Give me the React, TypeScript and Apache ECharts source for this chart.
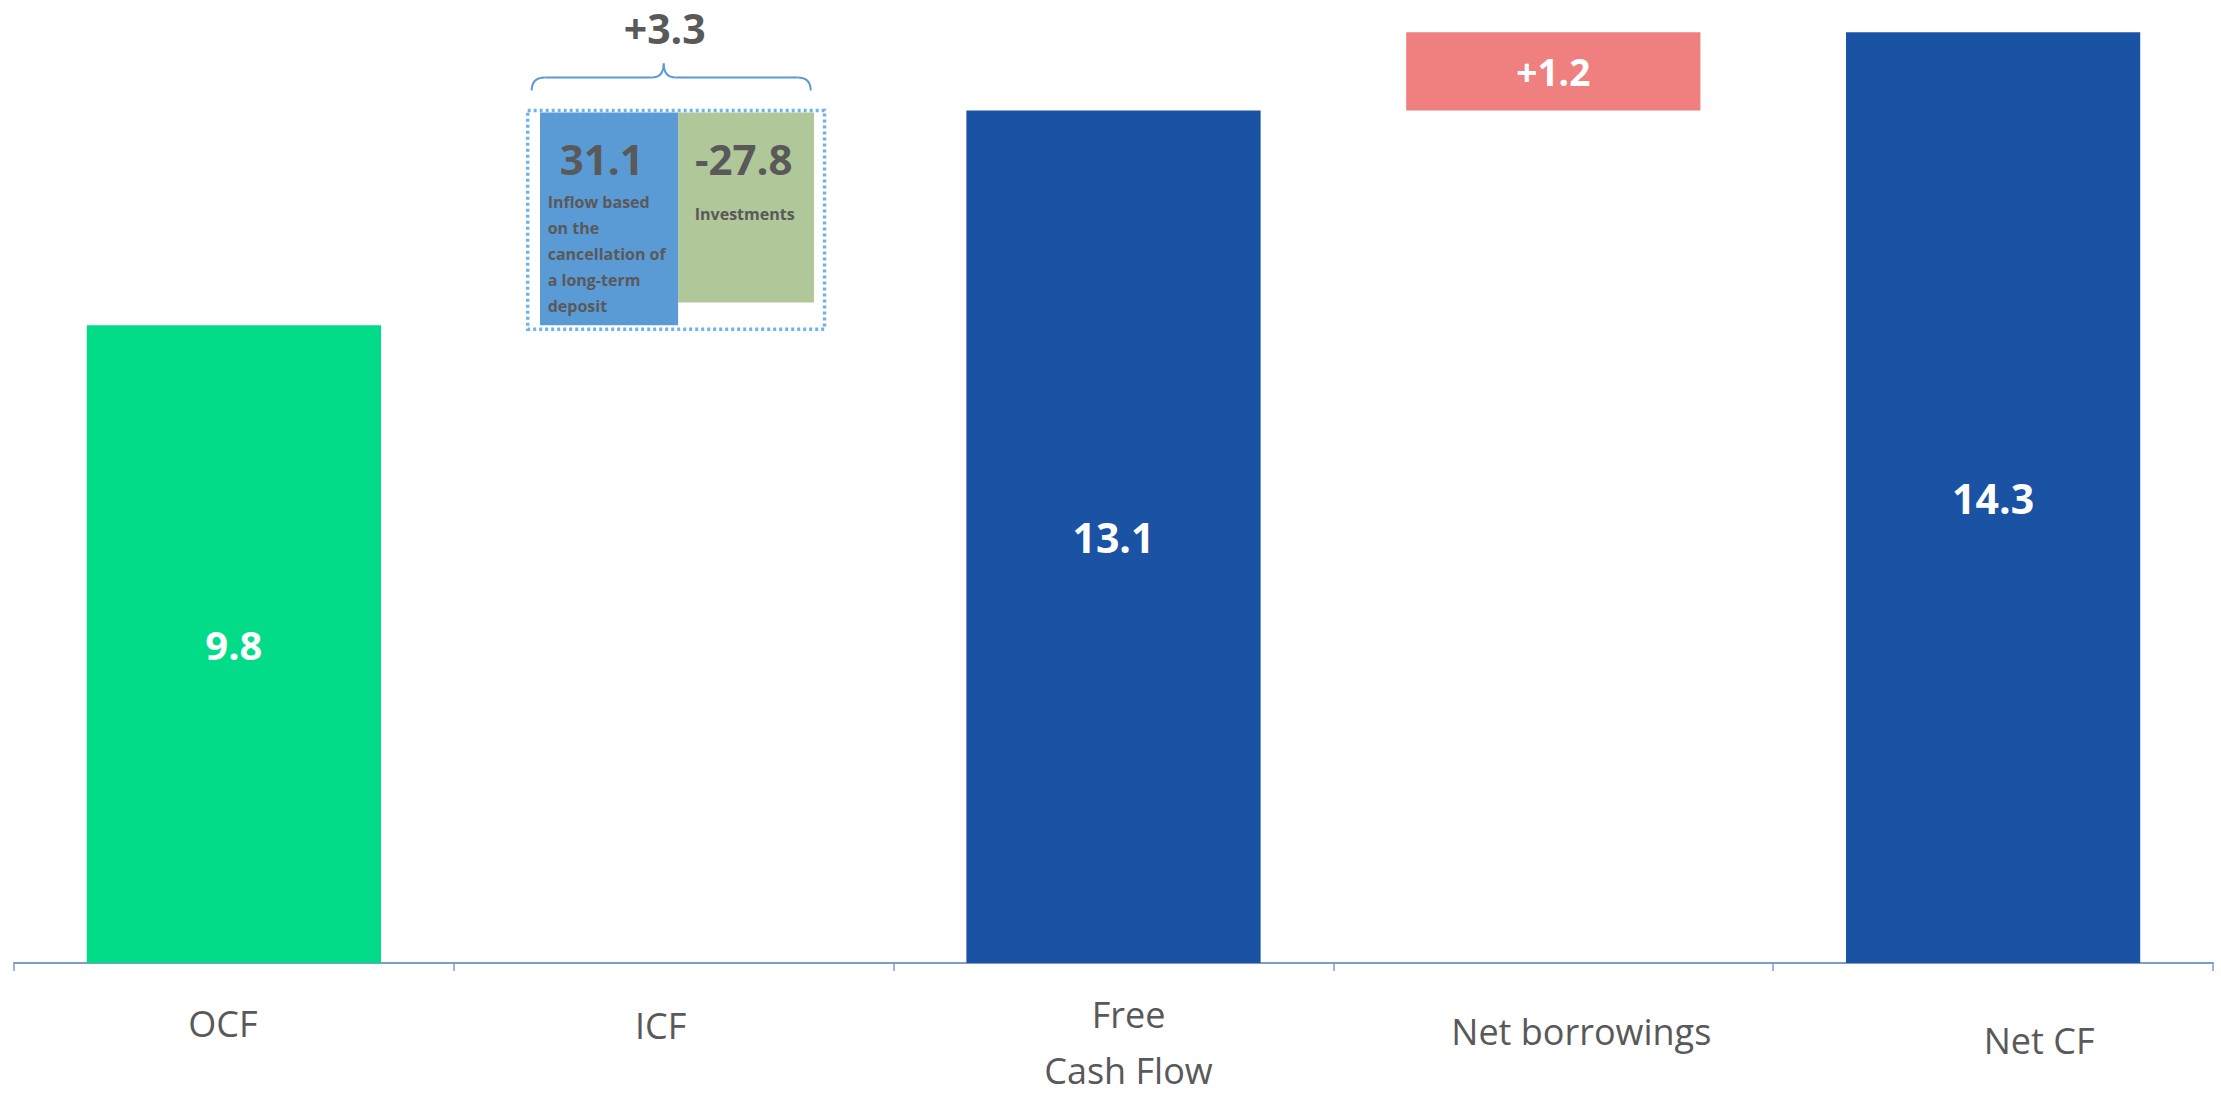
import React, { useEffect, useRef } from 'react';
import * as echarts from 'echarts';

// ---------- data ----------
const categories = ['OCF', 'ICF', 'Free\nCash Flow', 'Net borrowings', 'Net CF'];
const barBase: (number | string)[] = [0, '-', 0, 13.1, 0];
const barValues: (number | string)[] = [9.8, '-', 13.1, 1.2, 14.3];
const barLabels = ['9.8', '', '13.1', '+1.2', '14.3'];
const barColors = ['#02DC89', 'transparent', '#1A53A3', '#F08080', '#1A53A3'];
const labelSizes = [40, 0, 41, 37, 41];

// ICF breakdown (illustrative, spans OCF -> FCF)
const icfIndex = 1;
const icfStart = 9.8;
const icfEnd = 13.1;
const icfInflow = 31.1;
const icfInvestments = -27.8;
const icfNetLabel = '+3.3';
const icfInflowText = 'Inflow based\non the\ncancellation of\na long-term\ndeposit';
const icfInvestText = 'Investments';

const FONT = '"Open Sans", "Noto Sans", sans-serif';
const GREY = '#595959';

export default function App() {
  const ref = useRef<HTMLDivElement>(null);
  useEffect(() => {
    if (!ref.current) return;
    const chart = echarts.init(ref.current, null, { renderer: 'svg' });

    const richStyles: Record<string, any> = {
      c0: { lineHeight: 100, padding: [0, 22, 0, 0] },
      c1: { lineHeight: 104, padding: [0, 26, 0, 0] },
      c2a: { lineHeight: 82, padding: [0, 0, 0, 30] },
      c2b: { lineHeight: 30, padding: [0, 0, 0, 30] },
      c3: { lineHeight: 116, padding: [0, 0, 0, 56] },
      c4: { lineHeight: 134, padding: [0, 0, 0, 92] },
    };
    Object.keys(richStyles).forEach((k) => {
      richStyles[k] = { ...richStyles[k], fontSize: 36, fontFamily: FONT, color: GREY };
    });

    const option: any = {
      animation: false,
      backgroundColor: '#ffffff',
      grid: { left: 14, right: 8, top: 3, bottom: 130, containLabel: false },
      xAxis: {
        type: 'category',
        data: categories,
        boundaryGap: true,
        axisLine: { show: true, lineStyle: { color: '#7E9BCF', width: 2 } },
        axisTick: { show: true, length: 8, alignWithLabel: false, lineStyle: { color: '#7E9BCF', width: 1.5 } },
        axisLabel: {
          interval: 0,
          margin: 10,
          hideOverlap: false,
          formatter: (v: string, i: number) => {
            if (v.indexOf('\n') >= 0) {
              const parts = v.split('\n');
              return `{c${i}a|${parts[0]}}\n{c${i}b|${parts[1]}}`;
            }
            return `{c${i}|${v}}`;
          },
          rich: richStyles,
        },
        splitLine: { show: false },
      },
      yAxis: {
        type: 'value',
        min: 0,
        max: 14.75,
        show: false,
        splitLine: { show: false },
      },
      series: [
        {
          type: 'bar',
          stack: 'wf',
          barWidth: '66.9%',
          silent: true,
          itemStyle: { color: 'transparent' },
          data: barBase,
        },
        {
          type: 'bar',
          stack: 'wf',
          barWidth: '66.9%',
          data: barValues.map((v, i) => ({
            value: v,
            itemStyle: { color: barColors[i] },
            label: {
              show: barLabels[i] !== '',
              position: 'inside',
              formatter: barLabels[i],
              color: '#ffffff',
              fontWeight: 'bold',
              fontFamily: FONT,
              fontSize: labelSizes[i] || 40,
            },
          })),
        },
        {
          type: 'custom',
          clip: false,
          silent: true,
          data: [[icfIndex, icfStart, icfEnd, icfInflow, icfInvestments]],
          encode: { x: 0, y: [1, 2] },
          renderItem: (params: any, api: any) => {
            const idx = api.value(0);
            const start = api.value(1);
            const end = api.value(2);
            const inflow = api.value(3);
            const invest = api.value(4);
            const pB = api.coord([idx, start]);
            const pT = api.coord([idx, end]);
            const cx = pB[0];
            const yBottom = pB[1];
            const yTop = pT[1];
            const greenVal = end - ((end - start) * Math.abs(invest)) / inflow;
            const yGreen = api.coord([idx, greenVal])[1];
            const cw = api.size([1, 0])[0];
            const left = cx - 0.304 * cw;
            const mid = cx + 0.01 * cw;
            const right = cx + 0.319 * cw;
            const boxL = cx - 0.332 * cw;
            const boxR = cx + 0.343 * cw;

            const braceL = cx - 142;
            const braceR = cx + 137;
            const braceM = cx - 10;
            const yEnd = yTop - 20;
            const yH = yTop - 33;
            const yPeak = yTop - 47;
            const braceStyle = { stroke: '#5B9BD5', lineWidth: 2, fill: 'none' };

            return {
              type: 'group',
              children: [
                {
                  type: 'rect',
                  shape: { x: left, y: yTop + 2, width: mid - left, height: yBottom - yTop - 2 },
                  style: { fill: '#5B9BD5' },
                },
                {
                  type: 'rect',
                  shape: { x: mid, y: yTop + 2, width: right - mid, height: yGreen - yTop - 2 },
                  style: { fill: '#B0C79A' },
                },
                {
                  type: 'rect',
                  shape: { x: boxL, y: yTop, width: boxR - boxL, height: yBottom - yTop + 4 },
                  style: { fill: 'none', stroke: '#6CB4EA', lineWidth: 3.5, lineDash: [3, 3] },
                },
                {
                  type: 'bezierCurve',
                  shape: { x1: braceL, y1: yEnd, cpx1: braceL, cpy1: yH, x2: braceL + 13, y2: yH },
                  style: braceStyle,
                },
                {
                  type: 'line',
                  shape: { x1: braceL + 13, y1: yH, x2: braceM - 12, y2: yH },
                  style: braceStyle,
                },
                {
                  type: 'bezierCurve',
                  shape: { x1: braceM - 12, y1: yH, cpx1: braceM, cpy1: yH, x2: braceM, y2: yPeak },
                  style: braceStyle,
                },
                {
                  type: 'bezierCurve',
                  shape: { x1: braceM, y1: yPeak, cpx1: braceM, cpy1: yH, x2: braceM + 12, y2: yH },
                  style: braceStyle,
                },
                {
                  type: 'line',
                  shape: { x1: braceM + 12, y1: yH, x2: braceR - 13, y2: yH },
                  style: braceStyle,
                },
                {
                  type: 'bezierCurve',
                  shape: { x1: braceR - 13, y1: yH, cpx1: braceR, cpy1: yH, x2: braceR, y2: yEnd },
                  style: braceStyle,
                },
                {
                  type: 'text',
                  x: braceM + 1,
                  y: yTop - 82,
                  style: {
                    text: icfNetLabel,
                    fill: GREY,
                    fontSize: 41,
                    fontWeight: 'bold',
                    fontFamily: FONT,
                    align: 'center',
                    verticalAlign: 'middle',
                  },
                },
                {
                  type: 'text',
                  x: cx - 72,
                  y: yTop + 48,
                  style: {
                    text: String(inflow.toFixed ? inflow.toFixed(1) : inflow),
                    fill: GREY,
                    fontSize: 42,
                    fontWeight: 'bold',
                    fontFamily: FONT,
                    align: 'center',
                    verticalAlign: 'middle',
                  },
                },
                {
                  type: 'text',
                  x: cx + 70,
                  y: yTop + 48,
                  style: {
                    text: String(invest.toFixed ? invest.toFixed(1) : invest),
                    fill: GREY,
                    fontSize: 42,
                    fontWeight: 'bold',
                    fontFamily: FONT,
                    align: 'center',
                    verticalAlign: 'middle',
                  },
                },
                {
                  type: 'text',
                  x: cx - 126,
                  y: yTop + 79,
                  style: {
                    text: icfInflowText,
                    fill: GREY,
                    fontSize: 16,
                    lineHeight: 26,
                    fontWeight: 'bold',
                    fontFamily: FONT,
                    align: 'left',
                    verticalAlign: 'top',
                  },
                },
                {
                  type: 'text',
                  x: cx + 71,
                  y: yTop + 104,
                  style: {
                    text: icfInvestText,
                    fill: GREY,
                    fontSize: 16,
                    fontWeight: 'bold',
                    fontFamily: FONT,
                    align: 'center',
                    verticalAlign: 'middle',
                  },
                },
              ],
            };
          },
        },
      ],
    };

    chart.setOption(option);
    return () => {
      chart.dispose();
    };
  }, []);

  return (
    <div
      ref={ref}
      style={{ position: 'fixed', left: 0, top: 0, width: 2221, height: 1093, background: '#fff' }}
    />
  );
}
